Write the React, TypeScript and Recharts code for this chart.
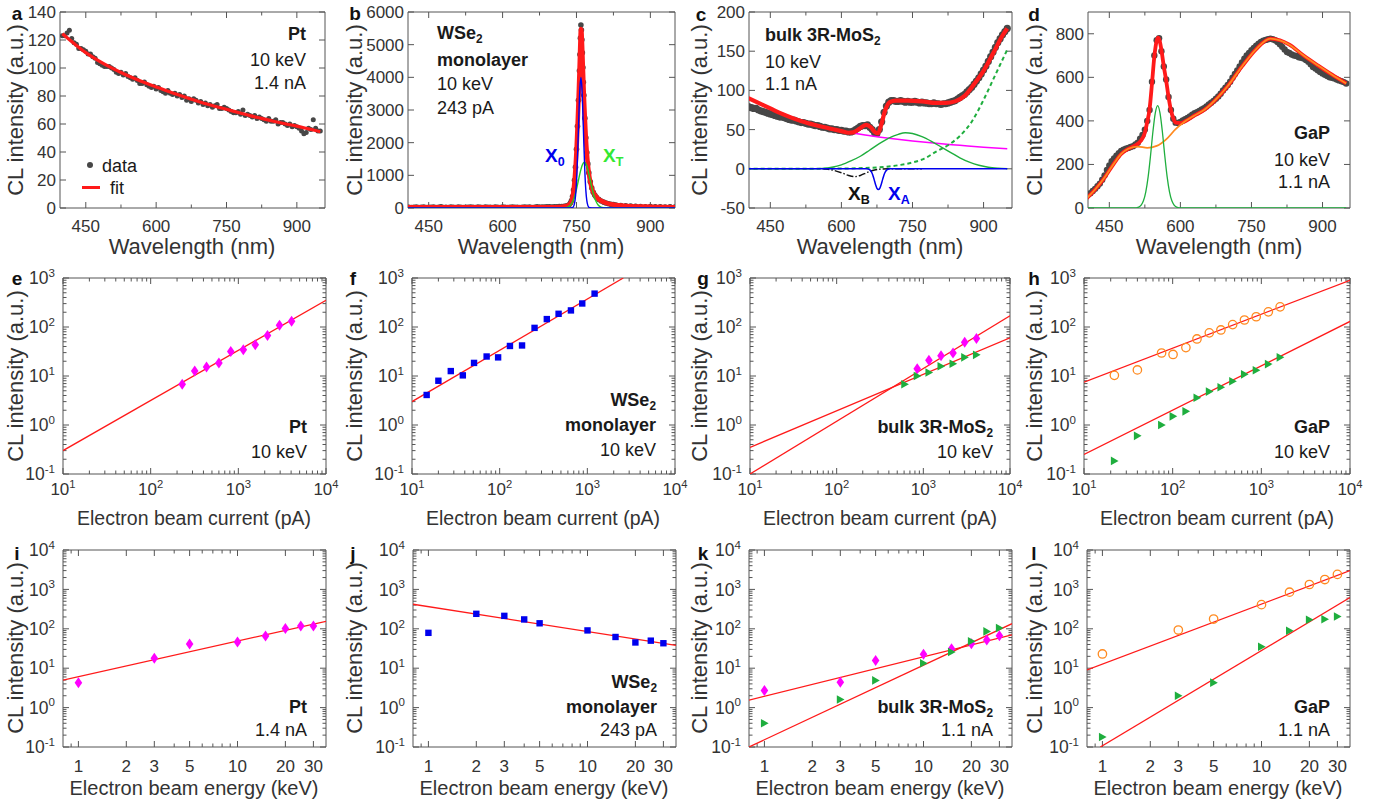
import React from "react";
import { ComposedChart, Line, Scatter, XAxis, YAxis } from "recharts";

const FONT = '"Liberation Sans", Arial, Helvetica, sans-serif';
const INK = "#333333";
const FRAME = "#555555";
const PAGE_W = 1393;
const GRAY = "#474747";
const RED = "#ff1a1a";
const MAGENTA = "#ff00ff";
const BLUE = "#0000ee";
const GREEN = "#1fae3e";
const LIME = "#22cc22";
const ORANGE = "#ff8a1f";

// ---------- top row: spectra (wavelength in nm) ----------
const wl5 = [
  400, 405, 410, 415, 420, 425, 430, 435, 440, 445,
  450, 455, 460, 465, 470, 475, 480, 485, 490, 495,
  500, 505, 510, 515, 520, 525, 530, 535, 540, 545,
  550, 555, 560, 565, 570, 575, 580, 585, 590, 595,
  600, 605, 610, 615, 620, 625, 630, 635, 640, 645,
  650, 655, 660, 665, 670, 675, 680, 685, 690, 695,
  700, 705, 710, 715, 720, 725, 730, 735, 740, 745,
  750, 755, 760, 765, 770, 775, 780, 785, 790, 795,
  800, 805, 810, 815, 820, 825, 830, 835, 840, 845,
  850, 855, 860, 865, 870, 875, 880, 885, 890, 895,
  900, 905, 910, 915, 920, 925, 930, 935, 940, 945,
  950,
];

// a: Pt
const aCL = [
  123, 123, 125, 127, 121, 118, 117, 114, 114, 113,
  112, 110, 110, 108, 107, 104, 103, 102, 101, 101,
  101, 100, 99, 97, 96, 97, 95, 96, 94, 93,
  92, 93, 91, 89, 89, 90, 88, 87, 86, 87,
  85, 86, 84, 83, 82, 84, 82, 81, 82, 80,
  81, 79, 80, 77, 78, 76, 78, 77, 75, 76,
  74, 75, 73, 74, 72, 73, 74, 71, 71, 72,
  71, 70, 69, 68, 68, 69, 67, 70, 66, 67,
  66, 65, 66, 64, 65, 64, 63, 62, 64, 62,
  62, 63, 60, 61, 61, 60, 59, 60, 58, 59,
  58, 57, 55, 53, 54, 57, 56, 63, 57, 55,
  55,
];
const aFitX = [400, 425, 450, 475, 500, 525, 550, 575, 600, 625, 650, 675, 700, 725, 750, 775, 800, 825, 850, 875, 900, 925, 950];
const aFitY = [124.5, 117.5, 111, 105.7, 101, 96.8, 93, 89.6, 86.5, 83.4, 80.5, 77.7, 75, 72.7, 70.5, 68.2, 66, 64, 62, 60.2, 58.5, 56.5, 54.5];

// b: WSe2 monolayer
const bX = [
  405, 410, 415, 420, 425, 430, 435, 440, 445, 450,
  455, 460, 465, 470, 475, 480, 485, 490, 495, 500,
  505, 510, 515, 520, 525, 530, 535, 540, 545, 550,
  555, 560, 565, 570, 575, 580, 585, 590, 595, 600,
  605, 610, 615, 620, 625, 630, 635, 640, 645, 650,
  655, 660, 665, 670, 675, 680, 685, 690, 695, 700,
  705, 710, 715,
  720, 725, 730, 735, 738, 740, 742, 744, 746, 748,
  750, 752, 754, 756, 757, 758, 759, 760, 761, 762,
  763, 764, 765, 767, 769, 771, 773, 775, 778, 781,
  784, 787, 790, 795, 800, 805, 810, 815, 820, 825,
  830, 840, 850, 860, 870, 880, 890, 900, 910, 920,
  930, 940, 950,
];
const bCL = [
  18, 25, 12, 22, 30, 15, 20, 28, 10, 24,
  19, 26, 14, 21, 33, 17, 23, 11, 27, 20,
  16, 29, 22, 13, 25, 18, 31, 20, 15, 26,
  22, 12, 28, 19, 24, 17, 30, 21, 14, 27,
  23, 16, 20, 32, 18, 25, 13, 22, 29, 19,
  26, 15, 21, 34, 24, 30, 28, 33, 36, 31,
  38, 35, 42,
  48, 55, 70, 100, 160, 230, 350, 550, 850, 1250,
  1800, 2500, 3300, 4200, 4700, 5200, 5600, 5450, 5150, 4750,
  4300, 3850, 3450, 2750, 2150, 1700, 1350, 1080, 800, 610,
  480, 395, 335, 265, 215, 180, 152, 132, 116, 102,
  93, 78, 66, 57, 50, 45, 40, 44, 36, 40,
  31, 34, 28,
];
const bFitX = [405, 700, 715, 725, 730, 735, 738, 740, 742, 744, 746, 748, 750, 752, 754, 756, 757, 758, 759, 760, 761, 762, 763, 765, 767, 769, 771, 773, 775, 778, 781, 785, 790, 795, 800, 810, 820, 830, 845, 860, 880, 900, 925, 950];
const bFitY = [22, 22, 30, 45, 65, 100, 150, 220, 340, 530, 820, 1220, 1750, 2450, 3250, 4150, 4650, 5150, 5480, 5450, 5150, 4750, 4300, 3450, 2750, 2150, 1700, 1350, 1080, 800, 610, 460, 345, 270, 220, 155, 115, 92, 72, 57, 45, 37, 30, 25];
const bX0X = [405, 735, 741, 743, 745, 747, 749, 751, 753, 755, 757, 759, 761, 763, 765, 767, 769, 771, 773, 775, 777, 785, 950];
const bX0Y = [0, 0, 6, 24, 80, 225, 540, 1110, 1950, 2900, 3690, 4000, 3690, 2900, 1950, 1110, 540, 225, 80, 24, 6, 0, 0];
const bXTX = [405, 720, 730, 734, 738, 742, 746, 750, 754, 758, 762, 766, 770, 774, 778, 782, 786, 790, 794, 798, 802, 815, 950];
const bXTY = [0, 0, 16, 40, 92, 190, 348, 575, 850, 1120, 1324, 1400, 1324, 1120, 850, 575, 348, 190, 92, 40, 16, 0, 0];

// c: bulk 3R-MoS2
const cCL = [
  80, 79, 78, 77, 77, 75, 74, 73, 72, 71,
  70, 69, 68, 67, 66, 66, 65, 64, 63, 62,
  62, 61, 60, 59, 59, 58, 57, 57, 56, 55,
  55, 54, 53, 53, 52, 51, 51, 50, 50, 49,
  49, 48, 48, 47, 47, 48, 50, 52, 54, 55,
  55, 56, 53, 50, 46, 45, 50, 60, 72, 80,
  85, 87, 87, 86, 86, 87, 86, 85, 86, 85,
  85, 86, 85, 84, 85, 84, 84, 83, 83, 84,
  83, 83, 82, 83, 83, 84, 85, 86, 87, 89,
  91, 93, 95, 98, 101, 104, 108, 112, 116, 121,
  126, 131, 137, 143, 149, 155, 161, 166, 171, 175,
  179,
];
const cFitX = [400, 425, 450, 475, 500, 525, 550, 575, 600, 615, 625, 638, 652, 662, 670, 677, 684, 692, 702, 715, 740, 770, 800, 820, 840, 860, 880, 900, 920, 940, 950];
const cFitY = [91, 84, 77, 70, 64, 59, 55, 51.5, 48, 46, 46.5, 51, 56, 53, 47, 45, 56, 74, 85, 87, 87, 86, 84, 84, 86, 93, 108, 125, 147, 170, 179];
const cBgX = [400, 450, 500, 550, 600, 650, 700, 750, 800, 850, 900, 950];
const cBgY = [90, 77, 65, 56, 48.5, 43, 39, 35.5, 32.5, 30, 27.5, 25.5];
const cGX = [400, 540, 560, 580, 600, 620, 640, 660, 680, 700, 720, 735, 750, 770, 790, 810, 830, 850, 870, 890, 910, 930, 950];
const cGY = [0, 0, 0.5, 2, 5, 10, 16, 24, 32, 39, 44, 46, 45, 41, 35, 28, 21, 14, 8.5, 4.5, 2, 0.8, 0.2];
const cExpX = [400, 600, 650, 700, 725, 750, 775, 800, 825, 850, 875, 900, 925, 950];
const cExpY = [0, 0.3, 1, 3, 5, 8, 13, 22, 30, 42, 60, 88, 120, 152];
const cXBX = [560, 580, 600, 615, 628, 640, 655, 670, 685, 700, 770];
const cXBY = [0, -1.5, -5, -8.5, -10, -8.5, -4.5, -1.5, -0.3, 0, 0];
const cXAX = [400, 652, 656, 660, 663, 666, 669, 672, 675, 678, 681, 684, 687, 690, 693, 696, 700, 704, 950];
const cXAY = [0, 0, -0.3, -1.3, -3.5, -7.5, -13.5, -20, -25, -26.5, -25, -20, -13.5, -7.5, -3.5, -1.3, -0.3, 0, 0];

// d: GaP
const dCL = [
  55, 62, 68, 78, 88, 100, 112, 130, 150, 175,
  195, 215, 228, 240, 252, 262, 268, 272, 276, 280,
  284, 292, 300, 318, 335, 360, 400, 450, 580, 700,
  770, 780, 720, 650, 590, 510, 450, 410, 392, 390,
  395, 402, 408, 414, 420, 428, 435, 440, 446, 452,
  458, 466, 475, 483, 492, 502, 512, 525, 540, 552,
  565, 580, 598, 615, 632, 650, 668, 686, 700, 712,
  725, 735, 745, 755, 762, 768, 772, 775, 777, 775,
  770, 762, 752, 740, 728, 716, 712, 705, 700, 698,
  692, 690, 686, 680, 672, 660, 648, 640, 632, 625,
  618, 612, 606, 600, 598, 595, 590, 586, 582, 578,
  572,
];
const dFitX = [400, 420, 440, 460, 475, 490, 505, 515, 525, 530, 535, 540, 545, 550, 553, 556, 560, 565, 570, 575, 580, 585, 590, 600, 610, 630, 650, 680, 700, 730, 760, 790, 810, 830, 860, 890, 920, 950];
const dFitY = [40, 85, 140, 205, 248, 272, 288, 305, 345, 395, 455, 570, 695, 768, 782, 770, 725, 650, 585, 510, 450, 412, 392, 390, 398, 425, 450, 510, 560, 650, 730, 778, 770, 750, 700, 655, 612, 572];
const dBgX = [400, 420, 440, 460, 475, 490, 510, 530, 550, 570, 590, 610, 630, 650, 680, 700, 730, 760, 790, 810, 830, 860, 890, 920, 950];
const dBgY = [40, 85, 140, 205, 248, 272, 282, 276, 285, 315, 362, 398, 425, 450, 510, 560, 650, 730, 778, 770, 750, 700, 655, 612, 572];
const dGX = [400, 502, 512, 522, 527, 532, 537, 542, 547, 552, 557, 562, 567, 572, 577, 582, 592, 602, 950];
const dGY = [0, 0.3, 4.4, 33, 74, 144, 241, 350, 436, 470, 436, 350, 241, 144, 74, 33, 4.4, 0.3, 0];

// ---------- middle row: intensity vs beam current (pA) ----------
const eCurrent = [229, 318, 434, 600, 820, 1140, 1560, 2150, 2950, 4050];
const eCL = [6.8, 12.6, 15.2, 18.5, 31.8, 34.5, 43.3, 67, 108, 131];
const eFitX = [10, 10000];
const eFitY = [0.3, 350];

const fCurrent = [14.7, 20, 27.7, 38, 51, 71, 96, 131, 180, 250, 345, 470, 650, 875, 1210];
const fCL = [4.1, 8, 12.6, 10.3, 18.5, 25, 24, 41, 42, 96, 145, 186, 218, 302, 480];
const fFitX = [10, 2570];
const fFitY = [3, 1000];

const gCurrentM = [850, 1160, 1600, 2200, 3000, 4100];
const gCLM = [14, 21, 26, 29.5, 49, 58];
const gCurrentG = [610, 850, 1160, 1600, 2200, 3000, 4100];
const gCLG = [6.8, 10, 11.8, 15.8, 17.8, 24, 27];
const gFitMX = [10, 10000];
const gFitMY = [0.1, 170];
const gFitGX = [10, 10000];
const gFitGY = [0.35, 60];

const hCurrent = [22, 40, 75, 101, 141, 188, 259, 350, 475, 645, 875, 1200, 1630];
const hCLO = [10.3, 13.3, 29.5, 27.5, 38, 57, 76, 87, 112, 139, 162, 204, 258];
const hCLG = [0.185, 0.6, 1.0, 1.5, 1.9, 3.6, 4.8, 5.9, 7.8, 10.8, 13.1, 17.5, 24];
const hFitOX = [10, 10000];
const hFitOY = [7.5, 900];
const hFitGX = [10, 10000];
const hFitGY = [0.25, 130];

// ---------- bottom row: intensity vs beam energy (keV) ----------
const iEnergy = [1, 3, 5, 10, 15, 20, 25, 30];
const iCL = [4.3, 17.8, 41, 46, 66, 102, 117, 117];
const iFitX = [0.8, 36];
const iFitY = [5, 155];

const jEnergy = [1, 2, 3, 4, 5, 10, 15, 20, 25, 30];
const jCL = [79, 240, 213, 173, 138, 91, 62, 45, 50, 43];
const jFitX = [0.8, 36];
const jFitY = [420, 38];

const kEnergy = [1, 3, 5, 10, 15, 20, 25, 30];
const kCLM = [2.7, 4.4, 15.7, 22.7, 31, 41.5, 52, 67];
const kCLG = [0.4, 1.6, 4.9, 13.4, 25.7, 48.5, 86, 105];
const kFitMX = [0.8, 36];
const kFitMY = [1.55, 70];
const kFitGX = [0.8, 36];
const kFitGY = [0.1, 135];

const lEnergy = [1, 3, 5, 10, 15, 20, 25, 30];
const lCLO = [23, 93, 177, 410, 850, 1330, 1780, 2400];
const lCLG = [0.18, 2.0, 4.3, 35, 89, 170, 175, 205];
const lFitOX = [0.8, 36];
const lFitOY = [9, 3000];
const lFitGX = [0.97, 36];
const lFitGY = [0.1, 620];

// ---------- ticks ----------
const wlTicks = [450, 525, 600, 675, 750, 825, 900];
const wlMajor = [450, 600, 750, 900];
const aYTicks = [0, 20, 40, 60, 80, 100, 120, 140];
const bYTicks = [0, 1000, 2000, 3000, 4000, 5000, 6000];
const cYTicks = [-50, 0, 50, 100, 150, 200];
const dYTicks = [0, 200, 400, 600, 800];
const curMajor = [10, 100, 1000, 10000];
const cl3Major = [0.1, 1, 10, 100, 1000];
const cl4Major = [0.1, 1, 10, 100, 1000, 10000];
const enMajor = [1, 2, 3, 5, 10, 20, 30];
const enMinor = [0.9, 4, 6, 7, 8, 9];

const minorLog = (from: number, to: number) => {
  const out: number[] = [];
  for (let e = from; e < to; e++) for (let k = 2; k <= 9; k++) out.push(k * Math.pow(10, e));
  return out;
};
const curTicks = [...curMajor, ...minorLog(1, 4)];
const cl3Ticks = [...cl3Major, ...minorLog(-1, 3)];
const cl4Ticks = [...cl4Major, ...minorLog(-1, 4)];
const enTicks = [...enMajor, ...enMinor];

type P = { x: number; y: number };
const zip = (xs: number[], ys: number[]): P[] => xs.map((x, i) => ({ x, y: ys[i] }));

type Side = "bottom" | "top" | "left" | "right";
type Lab = { pow: boolean; size: number; off: number };

function makeTick(side: Side, majors: number[], lab?: Lab) {
  return function Tick(props: any) {
    const { x, y, payload } = props;
    const v = payload?.value;
    const major = majors.includes(v);
    const len = major ? 6 : 3.5;
    const ln = { x1: x, y1: y, x2: x, y2: y };
    if (side === "bottom") ln.y2 = y - len;
    if (side === "top") ln.y2 = y + len;
    if (side === "left") ln.x2 = x + len;
    if (side === "right") ln.x2 = x - len;
    let text: React.ReactNode = null;
    if (lab && major) {
      const body = lab.pow ? (
        <>
          10
          <tspan dy={-lab.size * 0.42} fontSize={lab.size * 0.66}>
            {Math.round(Math.log10(v))}
          </tspan>
        </>
      ) : (
        String(v)
      );
      if (side === "bottom")
        text = (
          <text x={x} y={y + lab.off} textAnchor="middle" fontSize={lab.size} fill={INK} fontFamily={FONT}>
            {body}
          </text>
        );
      if (side === "left")
        text = (
          <text x={x - lab.off} y={y + lab.size * 0.35} textAnchor="end" fontSize={lab.size} fill={INK} fontFamily={FONT}>
            {body}
          </text>
        );
    }
    return (
      <g>
        <line {...ln} stroke={FRAME} strokeWidth={1} />
        {text}
      </g>
    );
  };
}

type PanelProps = {
  box: { l: number; t: number; w: number; h: number };
  xDomain: [number, number];
  yDomain: [number, number];
  xLog?: boolean;
  yLog?: boolean;
  xTicks: number[];
  xMajor: number[];
  yTicks: number[];
  yMajor: number[];
  xLab: Lab;
  yLab: Lab;
  under?: React.ReactNode;
  children: React.ReactNode;
};

const LW = 62, TM = 20, RM = 26, BH = 40;

function axes(p: PanelProps, visible: boolean) {
  const xs = p.xLog ? "log" : "linear";
  const ys = p.yLog ? "log" : "linear";
  const common = {
    type: "number" as const,
    allowDataOverflow: true,
    interval: 0 as const,
    tickLine: false,
    tickSize: 0,
    tickMargin: 0,
    axisLine: visible ? { stroke: FRAME, strokeWidth: 1 } : false,
  };
  return [
    <XAxis key="xb" xAxisId="b" dataKey="x" orientation="bottom" height={BH} scale={xs} domain={p.xDomain} ticks={p.xTicks} tick={visible ? makeTick("bottom", p.xMajor, p.xLab) : false} {...common} />,
    <XAxis key="xt" xAxisId="t" dataKey="x" orientation="top" height={TM} scale={xs} domain={p.xDomain} ticks={p.xTicks} tick={visible ? makeTick("top", p.xMajor) : false} {...common} />,
    <YAxis key="yl" yAxisId="l" dataKey="y" orientation="left" width={LW} scale={ys} domain={p.yDomain} ticks={p.yTicks} tick={visible ? makeTick("left", p.yMajor, p.yLab) : false} {...common} />,
    <YAxis key="yr" yAxisId="r" dataKey="y" orientation="right" width={RM} scale={ys} domain={p.yDomain} ticks={p.yTicks} tick={visible ? makeTick("right", p.yMajor) : false} {...common} />,
  ];
}

function Panel(p: PanelProps) {
  const W = LW + p.box.w + RM;
  const H = TM + p.box.h + BH;
  const m = { top: 0, right: 0, bottom: 0, left: 0 };
  return (
    <div style={{ position: "absolute", left: p.box.l - LW, top: p.box.t - TM, width: W, height: H }}>
      <div style={{ position: "absolute", left: 0, top: 0 }}>
        <ComposedChart width={W} height={H} margin={m}>
          {axes(p, true)}
          {p.under}
        </ComposedChart>
      </div>
      <div style={{ position: "absolute", left: 0, top: 0, pointerEvents: "none" }}>
        <ComposedChart width={W} height={H} margin={m}>
          {axes(p, false)}
          {p.children}
        </ComposedChart>
      </div>
    </div>
  );
}

const dots = (key: string, pts: P[], r: number) => (
  <Line key={key} xAxisId="b" yAxisId="l" data={pts} dataKey="y" stroke="none" dot={{ r, fill: GRAY, stroke: "none" }} activeDot={false} isAnimationActive={false} />
);
const curve = (key: string, pts: P[], color: string, width: number, dash?: string, kind: "monotone" | "linear" = "monotone") => (
  <Line key={key} xAxisId="b" yAxisId="l" data={pts} dataKey="y" type={kind} stroke={color} strokeWidth={width} strokeDasharray={dash} dot={false} activeDot={false} isAnimationActive={false} />
);
const fit = (key: string, pts: P[]) => curve(key, pts, RED, 1.3, undefined, "linear");

type Mark = "diamond" | "square" | "tri" | "ring";
function shapeOf(kind: Mark, color: string) {
  return (props: any) => {
    const { cx, cy } = props;
    if (kind === "diamond") return <path d={`M${cx},${cy - 5.5} L${cx + 3.8},${cy} L${cx},${cy + 5.5} L${cx - 3.8},${cy} Z`} fill={color} />;
    if (kind === "square") return <rect x={cx - 3.2} y={cy - 3.2} width={6.4} height={6.4} fill={color} />;
    if (kind === "tri") return <path d={`M${cx - 3.5},${cy - 4.3} L${cx + 4.2},${cy} L${cx - 3.5},${cy + 4.3} Z`} fill={color} />;
    return <circle cx={cx} cy={cy} r={4.2} fill="none" stroke={color} strokeWidth={1.3} />;
  };
}
const marks = (key: string, pts: P[], kind: Mark, color: string) => (
  <Scatter key={key} xAxisId="b" yAxisId="l" data={pts} dataKey="y" shape={shapeOf(kind, color)} isAnimationActive={false} />
);

function T({ x, y, anchor = "end", bold, size = 18, color = "#1a1a1a", children }: any) {
  const style: React.CSSProperties = {
    position: "absolute",
    top: y,
    transform: anchor === "middle" ? "translate(-50%,-50%)" : "translateY(-50%)",
    fontSize: size,
    fontWeight: bold ? 700 : 400,
    lineHeight: 1,
    whiteSpace: "nowrap",
    color,
  };
  if (anchor === "end") style.right = PAGE_W - x;
  else style.left = x;
  return <div style={style}>{children}</div>;
}
const Sub = ({ children }: any) => (
  <span style={{ fontSize: "0.66em", position: "relative", top: "0.3em" }}>{children}</span>
);
const YTitle = ({ x, y }: { x: number; y: number }) => (
  <div style={{ position: "absolute", left: x, top: y, transform: "translate(-50%,-50%) rotate(-90deg)", fontSize: 22, whiteSpace: "nowrap", lineHeight: 1, color: INK }}>
    CL intensity (a.u.)
  </div>
);
const Letter = ({ x, y, c }: { x: number; y: number; c: string }) => (
  <T x={x} y={y} anchor="middle" bold size={19} color="#111">
    {c}
  </T>
);

const LIN18: Lab = { pow: false, size: 17, off: 24 };
const LIN18Y: Lab = { pow: false, size: 17, off: 4 };
const POW2X: Lab = { pow: true, size: 17, off: 21 };
const POWY: Lab = { pow: true, size: 17.5, off: 8 };
const EN3X: Lab = { pow: false, size: 17, off: 24.5 };

export default function App() {
  const r1 = { t: 12, h: 196 };
  const r2 = { t: 278, h: 196 };
  const r3 = { t: 550, h: 197 };
  return (
    <div style={{ position: "absolute", left: 0, top: 0, width: PAGE_W, height: 802, background: "#fff", fontFamily: FONT, color: INK, overflow: "hidden" }}>
      {/* a */}
      <Panel box={{ l: 60, ...r1, w: 265 }} xDomain={[395, 960]} yDomain={[0, 140]} xTicks={wlTicks} xMajor={wlMajor} yTicks={aYTicks} yMajor={aYTicks} xLab={LIN18} yLab={LIN18Y}
        under={[dots("ad", zip(wl5, aCL), 2.5)]}>
        {[curve("af", zip(aFitX, aFitY), RED, 3.2)]}
      </Panel>
      {/* b */}
      <Panel box={{ l: 408, ...r1, w: 267 }} xDomain={[408, 950]} yDomain={[0, 6000]} xTicks={wlTicks} xMajor={wlMajor} yTicks={bYTicks} yMajor={bYTicks} xLab={LIN18} yLab={LIN18Y}
        under={[dots("bd", zip(bX, bCL), 2.8)]}>
        {[
          curve("bf", zip(bFitX, bFitY), RED, 4.5),
          curve("bt", zip(bXTX, bXTY), LIME, 1.4),
          curve("b0", zip(bX0X, bX0Y), BLUE, 1.4),
        ]}
      </Panel>
      {/* c */}
      <Panel box={{ l: 749, ...r1, w: 263 }} xDomain={[405, 960]} yDomain={[-50, 200]} xTicks={wlTicks} xMajor={wlMajor} yTicks={cYTicks} yMajor={cYTicks} xLab={LIN18} yLab={LIN18Y}
        under={[dots("cd", zip(wl5, cCL), 3.6)]}>
        {[
          curve("cbg", zip(cBgX, cBgY), MAGENTA, 1.5),
          curve("cg", zip(cGX, cGY), GREEN, 1.4),
          curve("ce", zip(cExpX, cExpY), GREEN, 2, "4 3"),
          curve("cxb", zip(cXBX, cXBY), "#111", 1.4, "7 2 1.5 2"),
          curve("cxa", zip(cXAX, cXAY), BLUE, 1.5),
          curve("cf", zip(cFitX, cFitY), RED, 4.2),
        ]}
      </Panel>
      {/* d */}
      <Panel box={{ l: 1088, ...r1, w: 262 }} xDomain={[405, 958]} yDomain={[0, 900]} xTicks={wlTicks} xMajor={wlMajor} yTicks={dYTicks} yMajor={dYTicks} xLab={LIN18} yLab={LIN18Y}
        under={[dots("dd", zip(wl5, dCL), 3.2)]}>
        {[
          curve("df", zip(dFitX, dFitY), RED, 3.8),
          curve("dbg", zip(dBgX, dBgY), ORANGE, 1.8),
          curve("dg", zip(dGX, dGY), GREEN, 1.3),
        ]}
      </Panel>

      {/* e */}
      <Panel box={{ l: 63, ...r2, w: 263 }} xDomain={[10, 10000]} yDomain={[0.1, 1000]} xLog yLog xTicks={curTicks} xMajor={curMajor} yTicks={cl3Ticks} yMajor={cl3Major} xLab={POW2X} yLab={POWY}>
        {[fit("ef", zip(eFitX, eFitY)), marks("em", zip(eCurrent, eCL), "diamond", MAGENTA)]}
      </Panel>
      {/* f */}
      <Panel box={{ l: 412, ...r2, w: 263 }} xDomain={[10, 10000]} yDomain={[0.1, 1000]} xLog yLog xTicks={curTicks} xMajor={curMajor} yTicks={cl3Ticks} yMajor={cl3Major} xLab={POW2X} yLab={POWY}>
        {[fit("ff", zip(fFitX, fFitY)), marks("fm", zip(fCurrent, fCL), "square", BLUE)]}
      </Panel>
      {/* g */}
      <Panel box={{ l: 750, ...r2, w: 260 }} xDomain={[10, 10000]} yDomain={[0.1, 1000]} xLog yLog xTicks={curTicks} xMajor={curMajor} yTicks={cl3Ticks} yMajor={cl3Major} xLab={POW2X} yLab={POWY}>
        {[
          fit("gfm", zip(gFitMX, gFitMY)),
          fit("gfg", zip(gFitGX, gFitGY)),
          marks("gm", zip(gCurrentM, gCLM), "diamond", MAGENTA),
          marks("gg", zip(gCurrentG, gCLG), "tri", GREEN),
        ]}
      </Panel>
      {/* h */}
      <Panel box={{ l: 1084, ...r2, w: 266 }} xDomain={[10, 10000]} yDomain={[0.1, 1000]} xLog yLog xTicks={curTicks} xMajor={curMajor} yTicks={cl3Ticks} yMajor={cl3Major} xLab={POW2X} yLab={POWY}>
        {[
          fit("hfo", zip(hFitOX, hFitOY)),
          fit("hfg", zip(hFitGX, hFitGY)),
          marks("ho", zip(hCurrent, hCLO), "ring", ORANGE),
          marks("hg", zip(hCurrent, hCLG), "tri", GREEN),
        ]}
      </Panel>

      {/* i */}
      <Panel box={{ l: 63, ...r3, w: 263 }} xDomain={[0.8, 36]} yDomain={[0.1, 10000]} xLog yLog xTicks={enTicks} xMajor={enMajor} yTicks={cl4Ticks} yMajor={cl4Major} xLab={EN3X} yLab={POWY}>
        {[fit("if", zip(iFitX, iFitY)), marks("im", zip(iEnergy, iCL), "diamond", MAGENTA)]}
      </Panel>
      {/* j */}
      <Panel box={{ l: 413, ...r3, w: 263 }} xDomain={[0.8, 36]} yDomain={[0.1, 10000]} xLog yLog xTicks={enTicks} xMajor={enMajor} yTicks={cl4Ticks} yMajor={cl4Major} xLab={EN3X} yLab={POWY}>
        {[fit("jf", zip(jFitX, jFitY)), marks("jm", zip(jEnergy, jCL), "square", BLUE)]}
      </Panel>
      {/* k */}
      <Panel box={{ l: 749, ...r3, w: 263 }} xDomain={[0.8, 36]} yDomain={[0.1, 10000]} xLog yLog xTicks={enTicks} xMajor={enMajor} yTicks={cl4Ticks} yMajor={cl4Major} xLab={EN3X} yLab={POWY}>
        {[
          fit("kfm", zip(kFitMX, kFitMY)),
          fit("kfg", zip(kFitGX, kFitGY)),
          marks("km", zip(kEnergy, kCLM), "diamond", MAGENTA),
          marks("kg", zip(kEnergy, kCLG), "tri", GREEN),
        ]}
      </Panel>
      {/* l */}
      <Panel box={{ l: 1087, ...r3, w: 263 }} xDomain={[0.8, 36]} yDomain={[0.1, 10000]} xLog yLog xTicks={enTicks} xMajor={enMajor} yTicks={cl4Ticks} yMajor={cl4Major} xLab={EN3X} yLab={POWY}>
        {[
          fit("lfo", zip(lFitOX, lFitOY)),
          fit("lfg", zip(lFitGX, lFitGY)),
          marks("lo", zip(lEnergy, lCLO), "ring", ORANGE),
          marks("lg", zip(lEnergy, lCLG), "tri", GREEN),
        ]}
      </Panel>

      {/* panel letters */}
      <Letter x={17} y={13} c="a" />
      <Letter x={355} y={13} c="b" />
      <Letter x={701} y={14} c="c" />
      <Letter x={1034} y={14} c="d" />
      <Letter x={17} y={278} c="e" />
      <Letter x={353} y={278} c="f" />
      <Letter x={703} y={278} c="g" />
      <Letter x={1034} y={278} c="h" />
      <Letter x={17} y={553} c="i" />
      <Letter x={353} y={553} c="j" />
      <Letter x={703} y={553} c="k" />
      <Letter x={1034} y={553} c="l" />

      {/* axis titles */}
      {[16, 355, 700, 1035].map((x) => (
        <React.Fragment key={x}>
          <YTitle x={x} y={110} />
          <YTitle x={x} y={376} />
          <YTitle x={x} y={648} />
        </React.Fragment>
      ))}
      {[192, 541, 880, 1219].map((x) => (
        <T key={"w" + x} x={x} y={247} anchor="middle" size={22} color={INK}>Wavelength (nm)</T>
      ))}
      {[194, 543, 880, 1217].map((x) => (
        <T key={"c" + x} x={x} y={519} anchor="middle" size={19.5} color={INK}>Electron beam current (pA)</T>
      ))}
      {[194, 544, 880, 1218].map((x) => (
        <T key={"e" + x} x={x} y={788} anchor="middle" size={20} color={INK}>Electron beam energy (keV)</T>
      ))}

      {/* a annotations + legend */}
      <T x={306} y={34} bold>Pt</T>
      <T x={306} y={60}>10 keV</T>
      <T x={306} y={83}>1.4 nA</T>
      <div style={{ position: "absolute", left: 87, top: 162, width: 6, height: 6, borderRadius: 3, background: GRAY }} />
      <T x={102} y={166} anchor="start">data</T>
      <div style={{ position: "absolute", left: 82, top: 185.5, width: 18, height: 3, background: RED }} />
      <T x={110} y={188} anchor="start">fit</T>

      {/* b annotations */}
      <T x={437} y={33} anchor="start" bold>WSe<Sub>2</Sub></T>
      <T x={437} y={60} anchor="start" bold>monolayer</T>
      <T x={437} y={84} anchor="start">10 keV</T>
      <T x={437} y={108} anchor="start">243 pA</T>
      <T x={545} y={155} anchor="start" bold size={19} color={BLUE}>X<Sub>0</Sub></T>
      <T x={603} y={155} anchor="start" bold size={19} color="#33e833">X<Sub>T</Sub></T>

      {/* c annotations */}
      <T x={765} y={35} anchor="start" bold>bulk 3R-MoS<Sub>2</Sub></T>
      <T x={765} y={62} anchor="start">10 keV</T>
      <T x={765} y={84} anchor="start">1.1 nA</T>
      <T x={848} y={193} anchor="start" bold size={19} color="#111">X<Sub>B</Sub></T>
      <T x={888} y={193} anchor="start" bold size={19} color={BLUE}>X<Sub>A</Sub></T>

      {/* d annotations */}
      <T x={1330} y={133} bold>GaP</T>
      <T x={1330} y={160}>10 keV</T>
      <T x={1330} y={182}>1.1 nA</T>

      {/* row 2 annotations */}
      <T x={307} y={427} bold>Pt</T>
      <T x={307} y={452}>10 keV</T>
      <T x={656} y={400} bold>WSe<Sub>2</Sub></T>
      <T x={656} y={425} bold>monolayer</T>
      <T x={656} y={450}>10 keV</T>
      <T x={993} y={427} bold>bulk 3R-MoS<Sub>2</Sub></T>
      <T x={993} y={452}>10 keV</T>
      <T x={1330} y={427} bold>GaP</T>
      <T x={1330} y={452}>10 keV</T>

      {/* row 3 annotations */}
      <T x={307} y={707} bold>Pt</T>
      <T x={307} y={730}>1.4 nA</T>
      <T x={657} y={682} bold>WSe<Sub>2</Sub></T>
      <T x={657} y={707} bold>monolayer</T>
      <T x={657} y={730}>243 pA</T>
      <T x={993} y={707} bold>bulk 3R-MoS<Sub>2</Sub></T>
      <T x={993} y={730}>1.1 nA</T>
      <T x={1330} y={707} bold>GaP</T>
      <T x={1330} y={730}>1.1 nA</T>
    </div>
  );
}
